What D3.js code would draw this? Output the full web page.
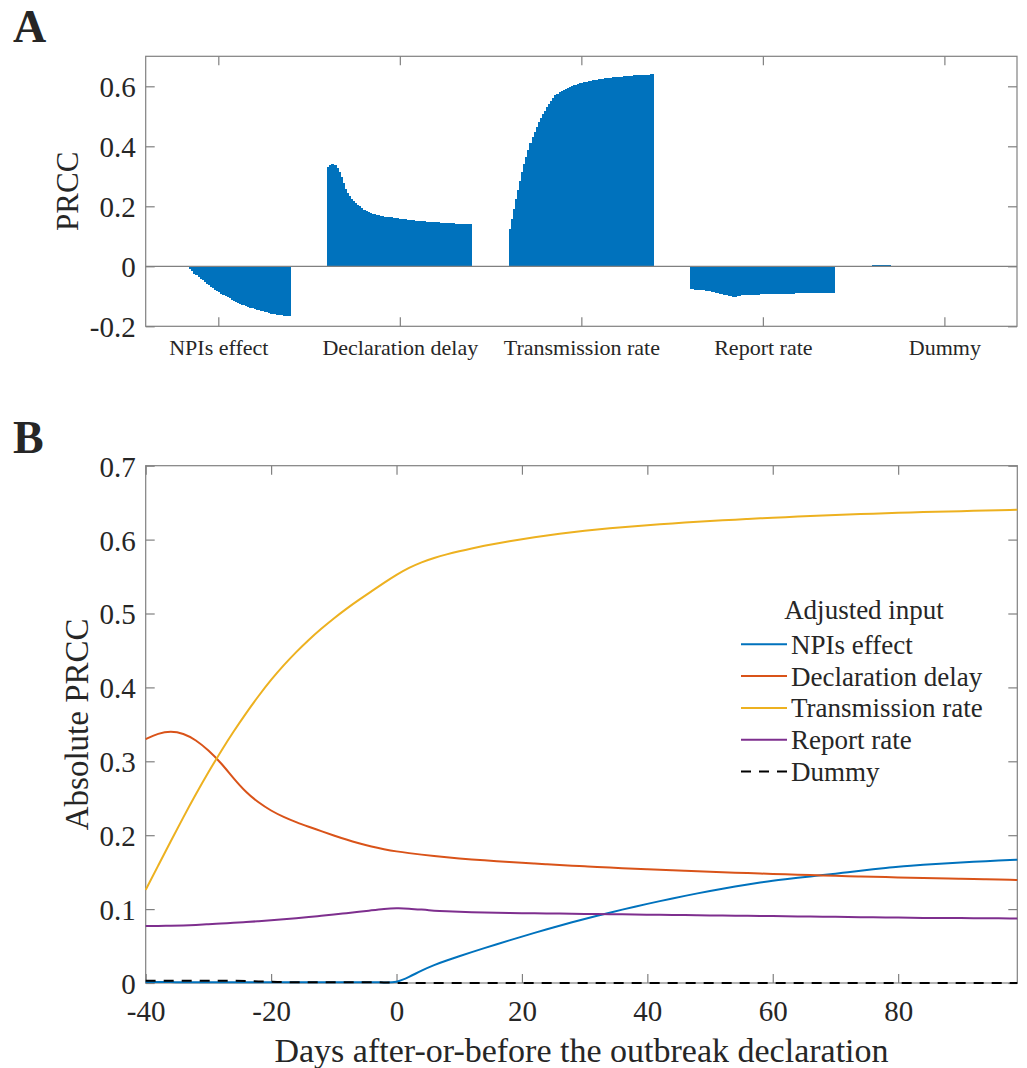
<!DOCTYPE html>
<html>
<head>
<meta charset="utf-8">
<script src="https://cdn.jsdelivr.net/npm/d3@7"></script>
<style>
  body { margin: 0; background: #fff; }
  svg text { font-family: "Liberation Serif", "Times New Roman", serif; fill: #262626; }
</style>
</head>
<body>
<div id="chart"></div>
<script>
// days relative to the outbreak declaration (sampled every 2 days, plus the last day)
const days = [-40, -38, -36, -34, -32, -30, -28, -26, -24, -22, -20, -18, -16, -14, -12, -10, -8, -6, -4, -2,
    0, 2, 4, 6, 8, 10, 12, 14, 16, 18, 20, 22, 24, 26, 28, 30, 32, 34, 36, 38, 40, 42, 44, 46, 48,
    50, 52, 54, 56, 58, 60, 62, 64, 66, 68, 70, 72, 74, 76, 78, 80, 82, 84, 86, 88, 90, 92, 94, 96, 98, 99];

// signed PRCC per input
const npisEffect = [-0.0015, -0.0015, -0.0012, -0.0010, -0.0010, -0.0010, -0.0010, -0.0010, -0.0010, -0.0010,
    -0.0010, -0.0010, -0.0010, -0.0010, -0.0010, -0.0010, -0.0010, -0.0010, -0.0010, -0.0008,
    -0.0005, -0.0080, -0.0170, -0.0245, -0.0305, -0.0362, -0.0418, -0.0472, -0.0525, -0.0577,
    -0.0628, -0.0678, -0.0727, -0.0775, -0.0822, -0.0867, -0.0910, -0.0952, -0.0993, -0.1033,
    -0.1071, -0.1108, -0.1144, -0.1179, -0.1213, -0.1246, -0.1277, -0.1306, -0.1333, -0.1360,
    -0.1385, -0.1405, -0.1424, -0.1442, -0.1460, -0.1479, -0.1500, -0.1520, -0.1539, -0.1557,
    -0.1575, -0.1588, -0.1600, -0.1611, -0.1621, -0.1631, -0.1640, -0.1649, -0.1657, -0.1665, -0.1669];

const declarationDelay = [0.3300, 0.3380, 0.3410, 0.3380, 0.3290, 0.3150, 0.2980, 0.2770, 0.2580, 0.2440,
    0.2330, 0.2245, 0.2175, 0.2115, 0.2055, 0.1995, 0.1940, 0.1890, 0.1845, 0.1810,
    0.1780, 0.1757, 0.1737, 0.1718, 0.1701, 0.1686, 0.1672, 0.1660, 0.1648, 0.1637,
    0.1627, 0.1617, 0.1607, 0.1597, 0.1588, 0.1580, 0.1570, 0.1562, 0.1554, 0.1546,
    0.1539, 0.1532, 0.1525, 0.1518, 0.1511, 0.1505, 0.1499, 0.1493, 0.1487, 0.1481,
    0.1476, 0.1471, 0.1466, 0.1461, 0.1456, 0.1451, 0.1446, 0.1442, 0.1437, 0.1433,
    0.1429, 0.1425, 0.1421, 0.1417, 0.1413, 0.1410, 0.1406, 0.1403, 0.1399, 0.1396, 0.1394];

const transmissionRate = [0.1260, 0.1590, 0.1918, 0.2244, 0.2556, 0.2854, 0.3136, 0.3402, 0.3652, 0.3886,
    0.4104, 0.4300, 0.4480, 0.4645, 0.4795, 0.4935, 0.5065, 0.5185, 0.5300, 0.5415,
    0.5525, 0.5620, 0.5695, 0.5753, 0.5801, 0.5843, 0.5881, 0.5916, 0.5948, 0.5978,
    0.6006, 0.6032, 0.6056, 0.6078, 0.6099, 0.6119, 0.6137, 0.6153, 0.6168, 0.6182,
    0.6195, 0.6207, 0.6219, 0.6230, 0.6241, 0.6251, 0.6261, 0.6270, 0.6279, 0.6288,
    0.6296, 0.6304, 0.6312, 0.6319, 0.6326, 0.6333, 0.6339, 0.6345, 0.6351, 0.6357,
    0.6362, 0.6367, 0.6372, 0.6377, 0.6381, 0.6385, 0.6389, 0.6393, 0.6397, 0.6401, 0.6403];

const reportRate = [-0.0770, -0.0772, -0.0775, -0.0779, -0.0786, -0.0795, -0.0805, -0.0815, -0.0825, -0.0836,
    -0.0848, -0.0862, -0.0877, -0.0893, -0.0910, -0.0927, -0.0945, -0.0963, -0.0983, -0.1003,
    -0.1013, -0.1008, -0.0993, -0.0978, -0.0970, -0.0963, -0.0958, -0.0954, -0.0951, -0.0948,
    -0.0945, -0.0943, -0.0941, -0.0939, -0.0937, -0.0935, -0.0933, -0.0931, -0.0929, -0.0927,
    -0.0925, -0.0923, -0.0921, -0.0919, -0.0917, -0.0915, -0.0913, -0.0911, -0.0909, -0.0907,
    -0.0905, -0.0903, -0.0901, -0.0899, -0.0897, -0.0895, -0.0893, -0.0891, -0.0889, -0.0887,
    -0.0885, -0.0883, -0.0881, -0.0880, -0.0879, -0.0878, -0.0877, -0.0876, -0.0875, -0.0874, -0.0874];

const dummy = [0.003, 0.003, 0.003, 0.003, 0.003, 0.003, 0.003, 0.003, 0.003, 0.002,
    0.002, 0.001, 0.001, 0.001, 0.001, 0.001, 0.001, 0.001, 0.001, 0.001,
    0.000, 0.000, 0.000, 0.000, 0.000, 0.000, 0.000, 0.000, 0.000, 0.000,
    0.000, 0.000, 0.000, 0.000, 0.000, 0.000, 0.000, 0.000, 0.000, 0.000,
    0.000, 0.000, 0.000, 0.000, 0.000, 0.000, 0.000, 0.000, 0.000, 0.000,
    0.000, 0.000, 0.000, 0.000, 0.000, 0.000, 0.000, 0.000, 0.000, 0.000,
    0.000, 0.000, 0.000, 0.000, 0.000, 0.000, 0.000, 0.000, 0.000, 0.000, 0.000];

const inputNames = ['NPIs effect', 'Declaration delay', 'Transmission rate', 'Report rate', 'Dummy'];
const lineColors = ['#0072BD', '#D95319', '#EDB120', '#7E2F8E', '#000000'];
const yTicksA = [-0.2, 0, 0.2, 0.4, 0.6];
const yTicksB = [0, 0.1, 0.2, 0.3, 0.4, 0.5, 0.6, 0.7];
const xTicksB = [-40, -20, 0, 20, 40, 60, 80];

const series = [npisEffect, declarationDelay, transmissionRate, reportRate, dummy];

const W = 1027, H = 1068;
const axisColor = '#808080';
const tickLen = 9;
const fmt = d => d === 0 ? '0' : String(d).replace('\u2212', '-');

const svg = d3.select('#chart').append('svg')
    .attr('width', W)
    .attr('height', H);

function styleAxis(g) {
    g.select('.domain').remove();
    g.selectAll('.tick line').attr('stroke', axisColor).attr('stroke-width', 1.2);
    g.selectAll('.tick text').attr('fill', '#262626');
}

// ---------- Panel A ----------
const boxA = { left: 145.7, right: 1017, top: 56.3, bottom: 326.3 };

const xA = d3.scalePoint().domain(inputNames).range([boxA.left, boxA.right]).padding(0.4);
const groupW = xA.step() * 0.8;
const xDay = d3.scaleLinear().domain([-40, 100]).range([-groupW / 2, groupW / 2]);
const yA = d3.scaleLinear().domain([-0.2, 0.7]).range([boxA.bottom, boxA.top]);

const gA = svg.append('g');

inputNames.forEach((name, i) => {
    const vals = series[i];
    gA.append('g')
        .attr('shape-rendering', 'crispEdges')
        .selectAll('rect')
        .data(days.map((d, j) => ({ day: d, next: j < days.length - 1 ? days[j + 1] : 100, v: vals[j] })))
        .join('rect')
        .attr('x', d => xA(name) + xDay(d.day))
        .attr('width', (d, j) => xDay(d.next) - xDay(d.day) + (j < days.length - 1 ? 1 : 0))
        .attr('y', d => yA(Math.max(d.v, 0)))
        .attr('height', d => Math.abs(yA(d.v) - yA(0)))
        .attr('fill', '#0072BD');
});

// baseline
gA.append('line')
    .attr('x1', boxA.left).attr('x2', boxA.right)
    .attr('y1', yA(0)).attr('y2', yA(0))
    .attr('stroke', axisColor).attr('stroke-width', 1.2);

const axA_bottom = gA.append('g')
    .attr('transform', `translate(0,${boxA.bottom})`)
    .call(d3.axisBottom(xA).tickSize(-tickLen))
    .call(styleAxis);
axA_bottom.selectAll('.tick text')
    .attr('y', 29).attr('dy', null)
    .style('font-size', '22px');

gA.append('g')
    .attr('transform', `translate(0,${boxA.top})`)
    .call(d3.axisTop(xA).tickSize(-tickLen).tickFormat(''))
    .call(styleAxis);

gA.append('g')
    .attr('transform', `translate(${boxA.left},0)`)
    .call(d3.axisLeft(yA).tickValues(yTicksA).tickSize(-tickLen).tickPadding(10).tickFormat(fmt))
    .call(styleAxis)
    .selectAll('.tick text')
    .attr('dy', '0.36em')
    .style('font-size', '29px');

gA.append('g')
    .attr('transform', `translate(${boxA.right},0)`)
    .call(d3.axisRight(yA).tickValues(yTicksA).tickSize(-tickLen).tickFormat(''))
    .call(styleAxis);

gA.append('rect')
    .attr('x', boxA.left).attr('y', boxA.top)
    .attr('width', boxA.right - boxA.left).attr('height', boxA.bottom - boxA.top)
    .attr('fill', 'none').attr('stroke', axisColor).attr('stroke-width', 1.2);

gA.append('text')
    .attr('transform', `translate(78,${(boxA.top + boxA.bottom) / 2}) rotate(-90)`)
    .attr('text-anchor', 'middle')
    .style('font-size', '31px')
    .text('PRCC');

svg.append('text')
    .attr('x', 13).attr('y', 42)
    .style('font-size', '46px').style('font-weight', 'bold').attr('fill', '#000')
    .text('A');

// ---------- Panel B ----------
const boxB = { left: 145.7, right: 1017.3, top: 465.7, bottom: 983 };

const xB = d3.scaleLinear().domain([-40, 99]).range([boxB.left, boxB.right]);
const yB = d3.scaleLinear().domain([0, 0.7]).range([boxB.bottom, boxB.top]);

const gB = svg.append('g');

const axB_bottom = gB.append('g')
    .attr('transform', `translate(0,${boxB.bottom})`)
    .call(d3.axisBottom(xB).tickValues(xTicksB).tickSize(-tickLen).tickFormat(fmt))
    .call(styleAxis);
axB_bottom.selectAll('.tick text')
    .attr('y', 38).attr('dy', null)
    .style('font-size', '29px');

gB.append('g')
    .attr('transform', `translate(0,${boxB.top})`)
    .call(d3.axisTop(xB).tickValues(xTicksB).tickSize(-tickLen).tickFormat(''))
    .call(styleAxis);

gB.append('g')
    .attr('transform', `translate(${boxB.left},0)`)
    .call(d3.axisLeft(yB).tickValues(yTicksB).tickSize(-tickLen).tickPadding(10).tickFormat(fmt))
    .call(styleAxis)
    .selectAll('.tick text')
    .attr('dy', '0.36em')
    .style('font-size', '29px');

gB.append('g')
    .attr('transform', `translate(${boxB.right},0)`)
    .call(d3.axisRight(yB).tickValues(yTicksB).tickSize(-tickLen).tickFormat(''))
    .call(styleAxis);

gB.append('rect')
    .attr('x', boxB.left).attr('y', boxB.top)
    .attr('width', boxB.right - boxB.left).attr('height', boxB.bottom - boxB.top)
    .attr('fill', 'none').attr('stroke', axisColor).attr('stroke-width', 1.2);

const line = d3.line()
    .x(d => xB(d.day))
    .y(d => yB(Math.abs(d.v)))
    .curve(d3.curveBasis);

series.forEach((vals, i) => {
    gB.append('path')
        .datum(days.map((d, j) => ({ day: d, v: vals[j] })))
        .attr('d', line)
        .attr('fill', 'none')
        .attr('stroke', lineColors[i])
        .attr('stroke-width', 2)
        .attr('stroke-dasharray', i === 4 ? '10,8' : null);
});

// legend
const legend = gB.append('g');
legend.append('text')
    .attr('x', 864).attr('y', 619)
    .attr('text-anchor', 'middle')
    .style('font-size', '27px')
    .text('Adjusted input');

inputNames.forEach((name, i) => {
    const ly = 644.3 + i * 31.8;
    legend.append('line')
        .attr('x1', 741).attr('x2', 787)
        .attr('y1', ly).attr('y2', ly)
        .attr('stroke', lineColors[i])
        .attr('stroke-width', 2)
        .attr('stroke-dasharray', i === 4 ? '10,8' : null);
    legend.append('text')
        .attr('x', 791).attr('y', ly + 9.5)
        .style('font-size', '27px')
        .text(name);
});

gB.append('text')
    .attr('x', (boxB.left + boxB.right) / 2).attr('y', 1061.5)
    .attr('text-anchor', 'middle')
    .style('font-size', '34px')
    .text('Days after-or-before the outbreak declaration');

gB.append('text')
    .attr('transform', `translate(88,${(boxB.top + boxB.bottom) / 2}) rotate(-90)`)
    .attr('text-anchor', 'middle')
    .style('font-size', '33px')
    .text('Absolute PRCC');

svg.append('text')
    .attr('x', 13).attr('y', 453)
    .style('font-size', '46px').style('font-weight', 'bold').attr('fill', '#000')
    .text('B');
</script>
</body>
</html>
